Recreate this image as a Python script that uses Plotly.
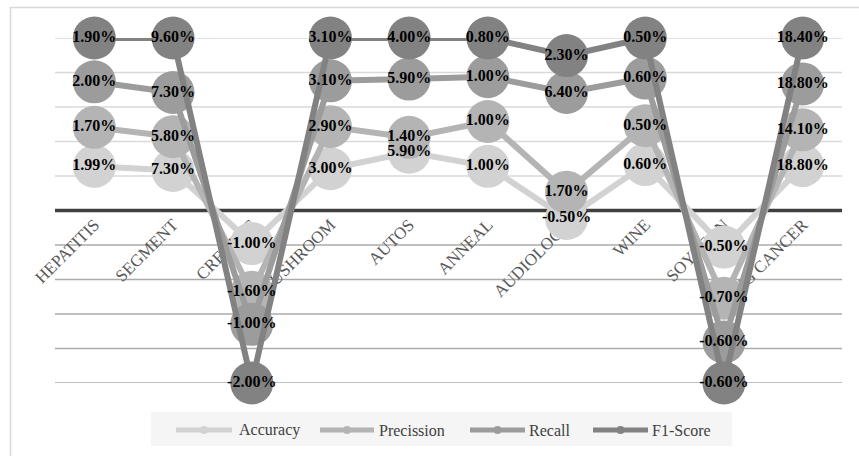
import plotly.graph_objects as go

categories = ["HEPATITIS", "SEGMENT", "CREDIT G", "MUSHROOM", "AUTOS",
              "ANNEAL", "AUDIOLOGY", "WINE", "SOYBEAN", "LUNG CANCER"]
series_names = ["Accuracy", "Precission", "Recall", "F1-Score"]

# plotted positions (stacked chart units)
accuracy_y = [1.28, 1.16, -0.96, 1.21, 1.69, 1.28, -0.23, 1.33, -1.06, 1.30]
precision_y = [2.41, 2.14, -2.37, 2.43, 2.12, 2.58, 0.53, 2.46, -2.54, 2.34]
recall_y = [3.73, 3.42, -3.30, 3.76, 3.81, 3.88, 3.42, 3.84, -3.81, 3.67]
f1_y = [5.0, 5.0, -5.0, 5.0, 5.0, 5.0, 4.49, 5.0, -5.0, 5.0]

# data labels
accuracy_lbl = ["1.99%", "7.30%", "-1.00%", "3.00%", "5.90%", "1.00%", "-0.50%", "0.60%", "-0.50%", "18.80%"]
precision_lbl = ["1.70%", "5.80%", "-1.60%", "2.90%", "1.40%", "1.00%", "1.70%", "0.50%", "-0.70%", "14.10%"]
recall_lbl = ["2.00%", "7.30%", "-1.00%", "3.10%", "5.90%", "1.00%", "6.40%", "0.60%", "-0.60%", "18.80%"]
f1_lbl = ["1.90%", "9.60%", "-2.00%", "3.10%", "4.00%", "0.80%", "2.30%", "0.50%", "-0.60%", "18.40%"]

colors = ["#d2d2d2", "#b4b4b4", "#9c9c9c", "#828282"]
ys = [accuracy_y, precision_y, recall_y, f1_y]
lbls = [accuracy_lbl, precision_lbl, recall_lbl, f1_lbl]

W, H = 859, 456
ML, MR, MT, MB = 55, 17, 38, 73
PW = W - ML - MR
PH = H - MT - MB

def px(x):
    return (x - ML) / PW

def py(y):
    return (H - MB - y) / PH

SERIF = "Liberation Serif, Times New Roman, serif"

fig = go.Figure()
for name, y, c in zip(series_names, ys, colors):
    fig.add_trace(go.Scatter(
        x=categories, y=y, mode="lines+markers", name=name,
        line=dict(color=c, width=6),
        marker=dict(color=c, size=43),
        cliponaxis=False, showlegend=False, hoverinfo="skip"))
for name, y, t in zip(series_names, ys, lbls):
    fig.add_trace(go.Scatter(
        x=categories, y=y, mode="text", text=t, textposition="middle center",
        textfont=dict(family=SERIF, size=16, color="#000000", weight="bold"),
        cliponaxis=False, showlegend=False, hoverinfo="skip"))

shapes = []
# outer chart border
shapes.append(dict(type="rect", xref="paper", yref="paper",
                   x0=px(10.5), x1=px(900), y0=py(7.5), y1=py(500),
                   line=dict(color="#d9d9d9", width=1.5), fillcolor="rgba(0,0,0,0)", layer="below"))
# gridlines
for v in range(-5, 6):
    if v == 0:
        continue
    col = "#d9d9d9" if v > 0 else "#ababab"
    shapes.append(dict(type="line", xref="paper", yref="y", x0=0, x1=1, y0=v, y1=v,
                       line=dict(color=col, width=1.6), layer="below"))
shapes.append(dict(type="line", xref="paper", yref="y", x0=0, x1=1, y0=0, y1=0,
                   line=dict(color="#404040", width=3.5), layer="below"))

# custom legend
shapes.append(dict(type="rect", xref="paper", yref="paper",
                   x0=px(151), x1=px(732), y0=py(412), y1=py(446),
                   line=dict(width=0), fillcolor="#f5f5f5", layer="below"))
leg_sym = [(176, 232, 237), (320, 374, 377), (470, 525, 527), (593, 648, 650)]
annotations = []
for (x0, x1, xt), name, c in zip(leg_sym, series_names, colors):
    shapes.append(dict(type="line", xref="paper", yref="paper",
                       x0=px(x0), x1=px(x1), y0=py(430), y1=py(430),
                       line=dict(color=c, width=5)))
    xm = (x0 + x1) / 2
    shapes.append(dict(type="circle", xref="paper", yref="paper",
                       x0=px(xm - 4), x1=px(xm + 4), y0=py(426), y1=py(434),
                       line=dict(width=0), fillcolor=c))
    annotations.append(dict(xref="paper", yref="paper", x=px(xt), y=py(430),
                            xanchor="left", yanchor="middle", showarrow=False,
                            text=name, font=dict(family=SERIF, size=16, color="#404040")))

fig.update_layout(
    width=W, height=H,
    margin=dict(l=ML, r=MR, t=MT, b=MB, pad=0),
    template="none",
    paper_bgcolor="white", plot_bgcolor="white",
    showlegend=False,
    shapes=shapes, annotations=annotations,
    xaxis=dict(type="category", range=[-0.5, 9.5], anchor="free", position=0.5,
               showgrid=False, zeroline=False, showline=False, ticks="",
               tickangle=-45, layer="below traces", automargin=False,
               tickfont=dict(family=SERIF, size=17, color="#595959")),
    yaxis=dict(range=[-5, 5], visible=False, showgrid=False, zeroline=False, domain=[0, 1]),
)

fig.write_html("out.html", config={"displayModeBar": False},
               post_script="document.body.style.margin='0';document.body.style.overflow='hidden';")
